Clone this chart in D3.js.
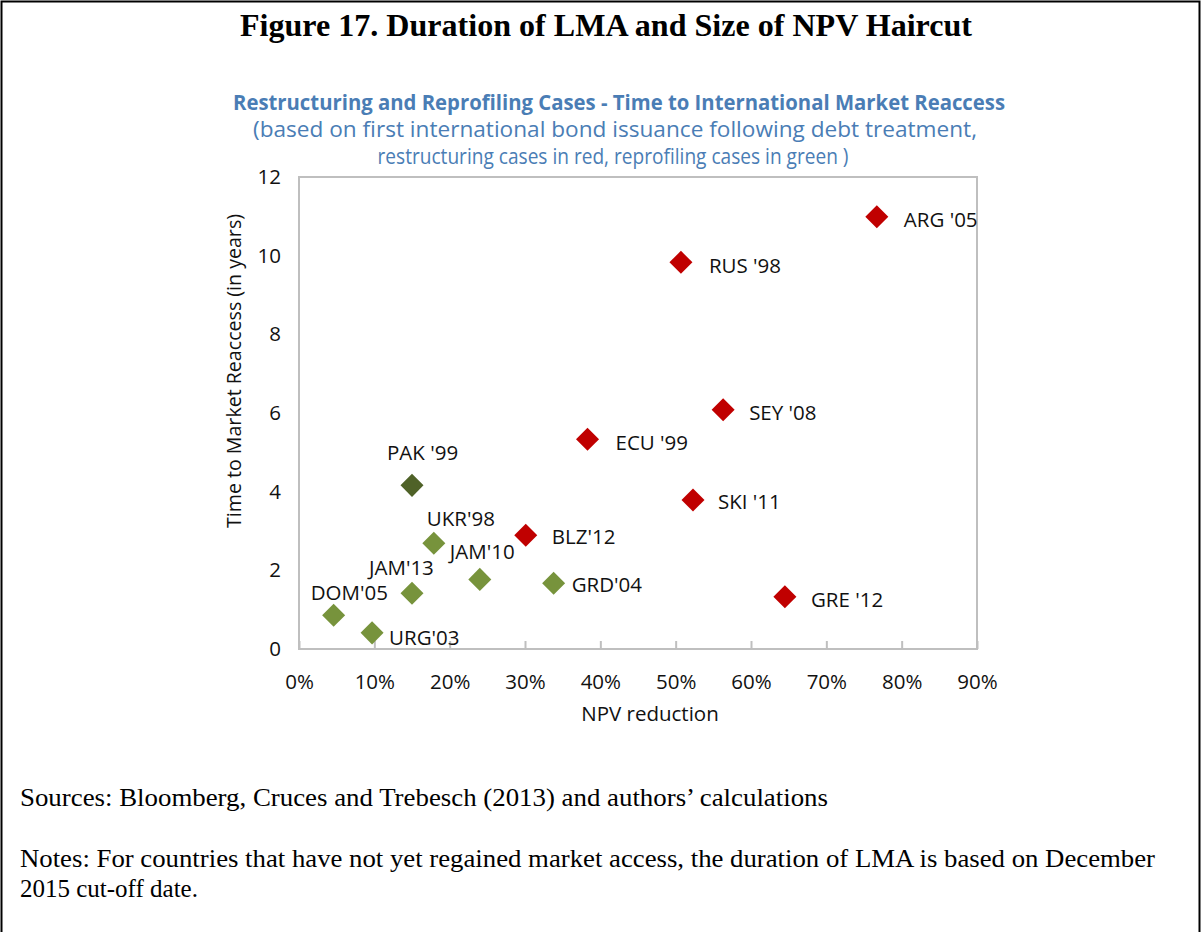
<!DOCTYPE html>
<html>
<head>
<meta charset="utf-8">
<script src="https://cdn.jsdelivr.net/npm/d3@7"></script>
<style>
  body { margin: 0; background: #fff; }
  svg { display: block; }
  .chart-text { font-family: "Open Sans", "Noto Sans", sans-serif; fill: #111; }
  .serif { font-family: "Liberation Serif", "Times New Roman", serif; fill: #000; }
</style>
</head>
<body>
<svg id="fig" width="1201" height="932"></svg>
<script>
// Data
const cases = ["ARG '05", "RUS '98", "SEY '08", "ECU '99", "SKI '11", "BLZ'12", "GRE '12",
               "PAK '99", "UKR'98", "JAM'10", "GRD'04", "JAM'13", "DOM'05", "URG'03"];
const npvReduction = [76.7, 50.7, 56.3, 38.3, 52.3, 30.1, 64.5,
                      15.0, 17.9, 24.0, 33.8, 15.0, 4.6, 9.7];
const yearsToReaccess = [10.99, 9.83, 6.08, 5.33, 3.79, 2.89, 1.33,
                         4.16, 2.69, 1.77, 1.67, 1.42, 0.86, 0.41];
const caseType = ["restructuring", "restructuring", "restructuring", "restructuring", "restructuring", "restructuring", "restructuring",
                  "pakistan", "reprofiling", "reprofiling", "reprofiling", "reprofiling", "reprofiling", "reprofiling"];
const xTicks = [0, 10, 20, 30, 40, 50, 60, 70, 80, 90];
const yTicks = [0, 2, 4, 6, 8, 10, 12];

// label placement relative to the marker centre
const labelOffset = {
  "ARG '05": [27, 10.5], "RUS '98": [28, 10.5], "SEY '08": [26, 10.5], "ECU '99": [28, 10.5],
  "SKI '11": [25, 9.5], "BLZ'12": [26, 9], "GRE '12": [26, 10],
  "PAK '99": [-25, -25], "UKR'98": [-7, -17], "JAM'10": [-30, -20], "GRD'04": [18, 9],
  "JAM'13": [-43, -18], "DOM'05": [-23, -15], "URG'03": [17, 12.5]
};

const colors = { restructuring: "#c00000", reprofiling: "#77933c", pakistan: "#4f6228" };
const fs = 20.5;

const svg = d3.select("#fig");

// page frame
svg.append("path")
  .attr("d", "M1.5,932 L1.5,1.5 L1199.5,1.5 L1199.5,932")
  .attr("fill", "none").attr("stroke", "#000").attr("stroke-width", 2);

svg.append("text").attr("class", "serif")
  .attr("x", 606).attr("y", 36).attr("text-anchor", "middle")
  .attr("font-size", 31).attr("font-weight", "bold")
  .attr("textLength", 732).attr("lengthAdjust", "spacingAndGlyphs")
  .text("Figure 17. Duration of LMA and Size of NPV Haircut");

// chart titles
const titleColor = "#4a7db5";
svg.append("text").attr("class", "chart-text")
  .attr("x", 619).attr("y", 110).attr("text-anchor", "middle")
  .attr("font-size", 21).attr("font-weight", "bold").style("fill", titleColor)
  .attr("textLength", 772).attr("lengthAdjust", "spacingAndGlyphs")
  .text("Restructuring and Reprofiling Cases  - Time to International Market Reaccess");
svg.append("text").attr("class", "chart-text")
  .attr("x", 615).attr("y", 137).attr("text-anchor", "middle")
  .attr("font-size", 21).style("fill", titleColor)
  .attr("textLength", 724).attr("lengthAdjust", "spacingAndGlyphs")
  .text("(based on first international  bond issuance following debt treatment,");
svg.append("text").attr("class", "chart-text")
  .attr("x", 613).attr("y", 164).attr("text-anchor", "middle")
  .attr("font-size", 21).style("fill", titleColor)
  .attr("textLength", 471).attr("lengthAdjust", "spacingAndGlyphs")
  .text("restructuring cases in red, reprofiling cases in green )");

// plot area
const plotLeft = 299, plotRight = 977, plotTop = 177, plotBottom = 649;
const x = d3.scaleLinear().domain([0, 90]).range([plotLeft, plotRight]);
const y = d3.scaleLinear().domain([0, 12]).range([plotBottom, plotTop]);

svg.append("rect")
  .attr("x", plotLeft).attr("y", plotTop)
  .attr("width", plotRight - plotLeft).attr("height", plotBottom - plotTop)
  .attr("fill", "none").attr("stroke", "#bfbfbf").attr("stroke-width", 2);

const xAxis = svg.append("g")
  .attr("transform", `translate(0,${plotBottom})`)
  .call(d3.axisBottom(x).tickValues(xTicks).tickSize(-8).tickPadding(25).tickFormat(d => d + "%"));
xAxis.select(".domain").remove();
xAxis.selectAll(".tick line").attr("stroke", "#bfbfbf").attr("stroke-width", 2);
xAxis.selectAll(".tick text").attr("class", "chart-text").attr("font-size", fs).attr("fill", "#111");

const yAxis = svg.append("g")
  .attr("transform", `translate(${plotLeft},0)`)
  .call(d3.axisLeft(y).tickValues(yTicks).tickSize(0).tickPadding(18));
yAxis.select(".domain").remove();
yAxis.selectAll(".tick text").attr("class", "chart-text").attr("font-size", fs).attr("fill", "#111");

// axis titles
svg.append("text").attr("class", "chart-text")
  .attr("x", 650).attr("y", 721).attr("text-anchor", "middle")
  .attr("font-size", fs).text("NPV reduction");
svg.append("text").attr("class", "chart-text")
  .attr("transform", "translate(241,371) rotate(-90)")
  .attr("text-anchor", "middle").attr("font-size", fs)
  .attr("textLength", 314).attr("lengthAdjust", "spacingAndGlyphs")
  .text("Time to Market Reaccess (in years)");

// points
const points = cases.map((c, i) => ({ name: c, npv: npvReduction[i], yrs: yearsToReaccess[i], type: caseType[i] }));
const diamond = d3.symbol().type(d3.symbolSquare).size(265);

const pt = svg.append("g").selectAll("g")
  .data(points)
  .join("g")
  .attr("transform", d => `translate(${x(d.npv)},${y(d.yrs)})`);

pt.append("path")
  .attr("d", diamond)
  .attr("transform", "rotate(45)")
  .attr("fill", d => colors[d.type]);

pt.append("text").attr("class", "chart-text")
  .attr("x", d => labelOffset[d.name][0])
  .attr("y", d => labelOffset[d.name][1])
  .attr("font-size", fs)
  .text(d => d.name);

// sources and notes
svg.append("text").attr("class", "serif")
  .attr("x", 20).attr("y", 806).attr("font-size", 25)
  .attr("textLength", 808).attr("lengthAdjust", "spacingAndGlyphs")
  .text("Sources: Bloomberg, Cruces and Trebesch (2013) and authors\u2019 calculations");
svg.append("text").attr("class", "serif")
  .attr("x", 20).attr("y", 867).attr("font-size", 25)
  .attr("textLength", 1135).attr("lengthAdjust", "spacingAndGlyphs")
  .text("Notes: For countries that have not yet regained market access, the duration of LMA is based on December");
svg.append("text").attr("class", "serif")
  .attr("x", 20).attr("y", 897).attr("font-size", 25)
  .text("2015 cut-off date.");
</script>
</body>
</html>
